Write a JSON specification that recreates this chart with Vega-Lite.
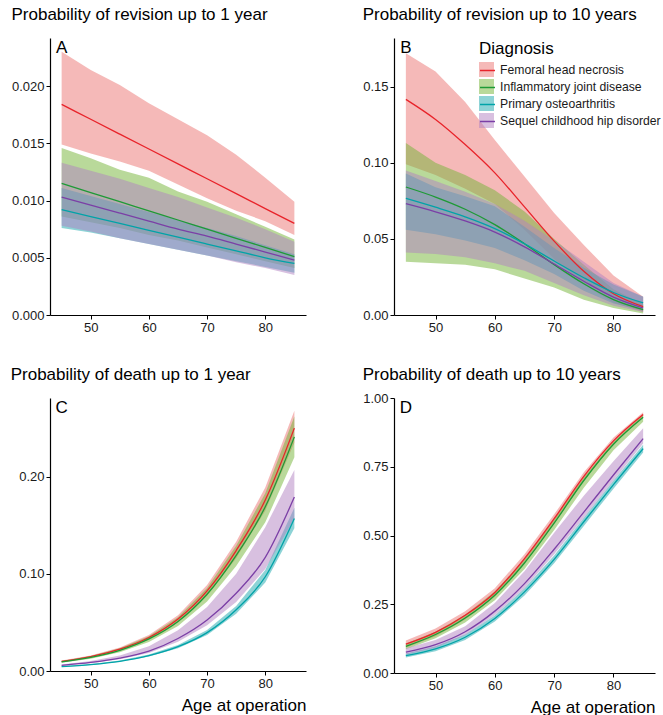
{
  "$schema": "https://vega.github.io/schema/vega-lite/v6.json",
  "background": "white",
  "padding": {"left": 10, "top": 6, "right": 0, "bottom": 0},
  "datasets": {
    "rows": [
      {"p":"A","dx":"Femoral head necrosis","age":45,"est":0.0184,"lo":0.0149,"hi":0.0230},
      {"p":"A","dx":"Femoral head necrosis","age":50,"est":0.0171,"lo":0.0141,"hi":0.0214},
      {"p":"A","dx":"Femoral head necrosis","age":55,"est":0.0158,"lo":0.0134,"hi":0.0201},
      {"p":"A","dx":"Femoral head necrosis","age":60,"est":0.0145,"lo":0.0126,"hi":0.0185},
      {"p":"A","dx":"Femoral head necrosis","age":65,"est":0.0132,"lo":0.0114,"hi":0.0171},
      {"p":"A","dx":"Femoral head necrosis","age":70,"est":0.0119,"lo":0.0102,"hi":0.0157},
      {"p":"A","dx":"Femoral head necrosis","age":75,"est":0.0106,"lo":0.0091,"hi":0.0140},
      {"p":"A","dx":"Femoral head necrosis","age":80,"est":0.0093,"lo":0.0082,"hi":0.0120},
      {"p":"A","dx":"Femoral head necrosis","age":85,"est":0.0080,"lo":0.0070,"hi":0.0099},
      {"p":"A","dx":"Inflammatory joint disease","age":45,"est":0.0115,"lo":0.0086,"hi":0.0146},
      {"p":"A","dx":"Inflammatory joint disease","age":50,"est":0.0107,"lo":0.0081,"hi":0.0137},
      {"p":"A","dx":"Inflammatory joint disease","age":55,"est":0.0099,"lo":0.0076,"hi":0.0127},
      {"p":"A","dx":"Inflammatory joint disease","age":60,"est":0.0091,"lo":0.0070,"hi":0.0120},
      {"p":"A","dx":"Inflammatory joint disease","age":65,"est":0.0083,"lo":0.0065,"hi":0.0108},
      {"p":"A","dx":"Inflammatory joint disease","age":70,"est":0.0075,"lo":0.0059,"hi":0.0099},
      {"p":"A","dx":"Inflammatory joint disease","age":75,"est":0.0067,"lo":0.0053,"hi":0.0088},
      {"p":"A","dx":"Inflammatory joint disease","age":80,"est":0.0059,"lo":0.0047,"hi":0.0077},
      {"p":"A","dx":"Inflammatory joint disease","age":85,"est":0.0051,"lo":0.0041,"hi":0.0066},
      {"p":"A","dx":"Primary osteoarthritis","age":45,"est":0.0092,"lo":0.0076,"hi":0.0111},
      {"p":"A","dx":"Primary osteoarthritis","age":50,"est":0.0086,"lo":0.0072,"hi":0.0104},
      {"p":"A","dx":"Primary osteoarthritis","age":55,"est":0.0080,"lo":0.0067,"hi":0.0097},
      {"p":"A","dx":"Primary osteoarthritis","age":60,"est":0.0074,"lo":0.0062,"hi":0.0090},
      {"p":"A","dx":"Primary osteoarthritis","age":65,"est":0.0068,"lo":0.0057,"hi":0.0083},
      {"p":"A","dx":"Primary osteoarthritis","age":70,"est":0.0062,"lo":0.0052,"hi":0.0076},
      {"p":"A","dx":"Primary osteoarthritis","age":75,"est":0.0056,"lo":0.0047,"hi":0.0069},
      {"p":"A","dx":"Primary osteoarthritis","age":80,"est":0.0050,"lo":0.0042,"hi":0.0061},
      {"p":"A","dx":"Primary osteoarthritis","age":85,"est":0.0045,"lo":0.0037,"hi":0.0053},
      {"p":"A","dx":"Sequel childhood hip disorder","age":45,"est":0.0103,"lo":0.0078,"hi":0.0133},
      {"p":"A","dx":"Sequel childhood hip disorder","age":50,"est":0.0096,"lo":0.0073,"hi":0.0126},
      {"p":"A","dx":"Sequel childhood hip disorder","age":55,"est":0.0089,"lo":0.0067,"hi":0.0119},
      {"p":"A","dx":"Sequel childhood hip disorder","age":60,"est":0.0082,"lo":0.0062,"hi":0.0111},
      {"p":"A","dx":"Sequel childhood hip disorder","age":65,"est":0.0075,"lo":0.0057,"hi":0.0103},
      {"p":"A","dx":"Sequel childhood hip disorder","age":70,"est":0.0069,"lo":0.0052,"hi":0.0094},
      {"p":"A","dx":"Sequel childhood hip disorder","age":75,"est":0.0062,"lo":0.0046,"hi":0.0085},
      {"p":"A","dx":"Sequel childhood hip disorder","age":80,"est":0.0055,"lo":0.0041,"hi":0.0075},
      {"p":"A","dx":"Sequel childhood hip disorder","age":85,"est":0.0048,"lo":0.0035,"hi":0.0064},

      {"p":"B","dx":"Femoral head necrosis","age":45,"est":0.1417,"lo":0.099,"hi":0.172},
      {"p":"B","dx":"Femoral head necrosis","age":50,"est":0.1285,"lo":0.092,"hi":0.160},
      {"p":"B","dx":"Femoral head necrosis","age":55,"est":0.112,"lo":0.083,"hi":0.140},
      {"p":"B","dx":"Femoral head necrosis","age":60,"est":0.0934,"lo":0.073,"hi":0.115},
      {"p":"B","dx":"Femoral head necrosis","age":65,"est":0.071,"lo":0.056,"hi":0.091},
      {"p":"B","dx":"Femoral head necrosis","age":70,"est":0.0485,"lo":0.037,"hi":0.067},
      {"p":"B","dx":"Femoral head necrosis","age":75,"est":0.0287,"lo":0.020,"hi":0.046},
      {"p":"B","dx":"Femoral head necrosis","age":80,"est":0.014,"lo":0.008,"hi":0.026},
      {"p":"B","dx":"Femoral head necrosis","age":85,"est":0.0055,"lo":0.002,"hi":0.012},
      {"p":"B","dx":"Inflammatory joint disease","age":45,"est":0.0841,"lo":0.035,"hi":0.113},
      {"p":"B","dx":"Inflammatory joint disease","age":50,"est":0.0775,"lo":0.034,"hi":0.100},
      {"p":"B","dx":"Inflammatory joint disease","age":55,"est":0.0695,"lo":0.033,"hi":0.092},
      {"p":"B","dx":"Inflammatory joint disease","age":60,"est":0.0594,"lo":0.030,"hi":0.082},
      {"p":"B","dx":"Inflammatory joint disease","age":65,"est":0.0468,"lo":0.024,"hi":0.068},
      {"p":"B","dx":"Inflammatory joint disease","age":70,"est":0.0331,"lo":0.018,"hi":0.050},
      {"p":"B","dx":"Inflammatory joint disease","age":75,"est":0.0205,"lo":0.010,"hi":0.033},
      {"p":"B","dx":"Inflammatory joint disease","age":80,"est":0.0101,"lo":0.0046,"hi":0.017},
      {"p":"B","dx":"Inflammatory joint disease","age":85,"est":0.0035,"lo":0.001,"hi":0.007},
      {"p":"B","dx":"Primary osteoarthritis","age":45,"est":0.0766,"lo":0.056,"hi":0.093},
      {"p":"B","dx":"Primary osteoarthritis","age":50,"est":0.0708,"lo":0.053,"hi":0.084},
      {"p":"B","dx":"Primary osteoarthritis","age":55,"est":0.0645,"lo":0.049,"hi":0.078},
      {"p":"B","dx":"Primary osteoarthritis","age":60,"est":0.0568,"lo":0.044,"hi":0.0715},
      {"p":"B","dx":"Primary osteoarthritis","age":65,"est":0.0468,"lo":0.036,"hi":0.058},
      {"p":"B","dx":"Primary osteoarthritis","age":70,"est":0.0355,"lo":0.027,"hi":0.044},
      {"p":"B","dx":"Primary osteoarthritis","age":75,"est":0.0245,"lo":0.016,"hi":0.031},
      {"p":"B","dx":"Primary osteoarthritis","age":80,"est":0.0148,"lo":0.0075,"hi":0.020},
      {"p":"B","dx":"Primary osteoarthritis","age":85,"est":0.0079,"lo":0.003,"hi":0.012},
      {"p":"B","dx":"Sequel childhood hip disorder","age":45,"est":0.0731,"lo":0.041,"hi":0.095},
      {"p":"B","dx":"Sequel childhood hip disorder","age":50,"est":0.0678,"lo":0.040,"hi":0.088},
      {"p":"B","dx":"Sequel childhood hip disorder","age":55,"est":0.0618,"lo":0.038,"hi":0.081},
      {"p":"B","dx":"Sequel childhood hip disorder","age":60,"est":0.0545,"lo":0.034,"hi":0.073},
      {"p":"B","dx":"Sequel childhood hip disorder","age":65,"est":0.0448,"lo":0.029,"hi":0.062},
      {"p":"B","dx":"Sequel childhood hip disorder","age":70,"est":0.0335,"lo":0.021,"hi":0.049},
      {"p":"B","dx":"Sequel childhood hip disorder","age":75,"est":0.0222,"lo":0.013,"hi":0.035},
      {"p":"B","dx":"Sequel childhood hip disorder","age":80,"est":0.0118,"lo":0.006,"hi":0.021},
      {"p":"B","dx":"Sequel childhood hip disorder","age":85,"est":0.0046,"lo":0.002,"hi":0.012},

      {"p":"C","dx":"Femoral head necrosis","age":45,"est":0.0098,"lo":0.0090,"hi":0.0108},
      {"p":"C","dx":"Femoral head necrosis","age":50,"est":0.0148,"lo":0.0137,"hi":0.0160},
      {"p":"C","dx":"Femoral head necrosis","age":55,"est":0.0225,"lo":0.0210,"hi":0.0242},
      {"p":"C","dx":"Femoral head necrosis","age":60,"est":0.0345,"lo":0.0322,"hi":0.0370},
      {"p":"C","dx":"Femoral head necrosis","age":65,"est":0.0535,"lo":0.0500,"hi":0.0575},
      {"p":"C","dx":"Femoral head necrosis","age":70,"est":0.0825,"lo":0.0775,"hi":0.0885},
      {"p":"C","dx":"Femoral head necrosis","age":75,"est":0.124,"lo":0.116,"hi":0.133},
      {"p":"C","dx":"Femoral head necrosis","age":80,"est":0.176,"lo":0.165,"hi":0.189},
      {"p":"C","dx":"Femoral head necrosis","age":85,"est":0.250,"lo":0.235,"hi":0.268},
      {"p":"C","dx":"Inflammatory joint disease","age":45,"est":0.0093,"lo":0.0084,"hi":0.0103},
      {"p":"C","dx":"Inflammatory joint disease","age":50,"est":0.0140,"lo":0.0127,"hi":0.0154},
      {"p":"C","dx":"Inflammatory joint disease","age":55,"est":0.0213,"lo":0.0193,"hi":0.0233},
      {"p":"C","dx":"Inflammatory joint disease","age":60,"est":0.0330,"lo":0.0299,"hi":0.0358},
      {"p":"C","dx":"Inflammatory joint disease","age":65,"est":0.0510,"lo":0.0462,"hi":0.0552},
      {"p":"C","dx":"Inflammatory joint disease","age":70,"est":0.0790,"lo":0.0715,"hi":0.0855},
      {"p":"C","dx":"Inflammatory joint disease","age":75,"est":0.119,"lo":0.108,"hi":0.129},
      {"p":"C","dx":"Inflammatory joint disease","age":80,"est":0.169,"lo":0.153,"hi":0.183},
      {"p":"C","dx":"Inflammatory joint disease","age":85,"est":0.241,"lo":0.220,"hi":0.262},
      {"p":"C","dx":"Primary osteoarthritis","age":45,"est":0.0045,"lo":0.0042,"hi":0.0048},
      {"p":"C","dx":"Primary osteoarthritis","age":50,"est":0.0066,"lo":0.0062,"hi":0.0071},
      {"p":"C","dx":"Primary osteoarthritis","age":55,"est":0.0100,"lo":0.0094,"hi":0.0107},
      {"p":"C","dx":"Primary osteoarthritis","age":60,"est":0.0158,"lo":0.0148,"hi":0.0169},
      {"p":"C","dx":"Primary osteoarthritis","age":65,"est":0.0250,"lo":0.0235,"hi":0.0268},
      {"p":"C","dx":"Primary osteoarthritis","age":70,"est":0.0395,"lo":0.0371,"hi":0.0423},
      {"p":"C","dx":"Primary osteoarthritis","age":75,"est":0.063,"lo":0.059,"hi":0.067},
      {"p":"C","dx":"Primary osteoarthritis","age":80,"est":0.097,"lo":0.091,"hi":0.104},
      {"p":"C","dx":"Primary osteoarthritis","age":85,"est":0.157,"lo":0.147,"hi":0.168},
      {"p":"C","dx":"Sequel childhood hip disorder","age":45,"est":0.0058,"lo":0.0052,"hi":0.0068},
      {"p":"C","dx":"Sequel childhood hip disorder","age":50,"est":0.0088,"lo":0.0079,"hi":0.0104},
      {"p":"C","dx":"Sequel childhood hip disorder","age":55,"est":0.0133,"lo":0.0120,"hi":0.016},
      {"p":"C","dx":"Sequel childhood hip disorder","age":60,"est":0.0205,"lo":0.0185,"hi":0.0255},
      {"p":"C","dx":"Sequel childhood hip disorder","age":65,"est":0.0335,"lo":0.0300,"hi":0.042},
      {"p":"C","dx":"Sequel childhood hip disorder","age":70,"est":0.0525,"lo":0.0470,"hi":0.066},
      {"p":"C","dx":"Sequel childhood hip disorder","age":75,"est":0.080,"lo":0.071,"hi":0.100},
      {"p":"C","dx":"Sequel childhood hip disorder","age":80,"est":0.117,"lo":0.105,"hi":0.148},
      {"p":"C","dx":"Sequel childhood hip disorder","age":85,"est":0.179,"lo":0.157,"hi":0.207},

      {"p":"D","dx":"Femoral head necrosis","age":45,"est":0.105,"lo":0.092,"hi":0.118},
      {"p":"D","dx":"Femoral head necrosis","age":50,"est":0.148,"lo":0.134,"hi":0.162},
      {"p":"D","dx":"Femoral head necrosis","age":55,"est":0.210,"lo":0.195,"hi":0.225},
      {"p":"D","dx":"Femoral head necrosis","age":60,"est":0.293,"lo":0.278,"hi":0.308},
      {"p":"D","dx":"Femoral head necrosis","age":65,"est":0.416,"lo":0.400,"hi":0.432},
      {"p":"D","dx":"Femoral head necrosis","age":70,"est":0.561,"lo":0.545,"hi":0.577},
      {"p":"D","dx":"Femoral head necrosis","age":75,"est":0.715,"lo":0.700,"hi":0.730},
      {"p":"D","dx":"Femoral head necrosis","age":80,"est":0.844,"lo":0.832,"hi":0.856},
      {"p":"D","dx":"Femoral head necrosis","age":85,"est":0.940,"lo":0.932,"hi":0.948},
      {"p":"D","dx":"Inflammatory joint disease","age":45,"est":0.097,"lo":0.086,"hi":0.107},
      {"p":"D","dx":"Inflammatory joint disease","age":50,"est":0.140,"lo":0.126,"hi":0.150},
      {"p":"D","dx":"Inflammatory joint disease","age":55,"est":0.200,"lo":0.184,"hi":0.212},
      {"p":"D","dx":"Inflammatory joint disease","age":60,"est":0.283,"lo":0.265,"hi":0.296},
      {"p":"D","dx":"Inflammatory joint disease","age":65,"est":0.400,"lo":0.378,"hi":0.414},
      {"p":"D","dx":"Inflammatory joint disease","age":70,"est":0.545,"lo":0.520,"hi":0.560},
      {"p":"D","dx":"Inflammatory joint disease","age":75,"est":0.700,"lo":0.674,"hi":0.713},
      {"p":"D","dx":"Inflammatory joint disease","age":80,"est":0.832,"lo":0.810,"hi":0.843},
      {"p":"D","dx":"Inflammatory joint disease","age":85,"est":0.930,"lo":0.914,"hi":0.940},
      {"p":"D","dx":"Primary osteoarthritis","age":45,"est":0.063,"lo":0.056,"hi":0.071},
      {"p":"D","dx":"Primary osteoarthritis","age":50,"est":0.088,"lo":0.079,"hi":0.097},
      {"p":"D","dx":"Primary osteoarthritis","age":55,"est":0.130,"lo":0.120,"hi":0.140},
      {"p":"D","dx":"Primary osteoarthritis","age":60,"est":0.198,"lo":0.187,"hi":0.209},
      {"p":"D","dx":"Primary osteoarthritis","age":65,"est":0.295,"lo":0.282,"hi":0.308},
      {"p":"D","dx":"Primary osteoarthritis","age":70,"est":0.413,"lo":0.399,"hi":0.427},
      {"p":"D","dx":"Primary osteoarthritis","age":75,"est":0.550,"lo":0.535,"hi":0.565},
      {"p":"D","dx":"Primary osteoarthritis","age":80,"est":0.685,"lo":0.670,"hi":0.700},
      {"p":"D","dx":"Primary osteoarthritis","age":85,"est":0.816,"lo":0.802,"hi":0.830},
      {"p":"D","dx":"Sequel childhood hip disorder","age":45,"est":0.076,"lo":0.066,"hi":0.090},
      {"p":"D","dx":"Sequel childhood hip disorder","age":50,"est":0.103,"lo":0.092,"hi":0.120},
      {"p":"D","dx":"Sequel childhood hip disorder","age":55,"est":0.150,"lo":0.138,"hi":0.170},
      {"p":"D","dx":"Sequel childhood hip disorder","age":60,"est":0.225,"lo":0.210,"hi":0.255},
      {"p":"D","dx":"Sequel childhood hip disorder","age":65,"est":0.325,"lo":0.308,"hi":0.370},
      {"p":"D","dx":"Sequel childhood hip disorder","age":70,"est":0.450,"lo":0.432,"hi":0.510},
      {"p":"D","dx":"Sequel childhood hip disorder","age":75,"est":0.585,"lo":0.565,"hi":0.645},
      {"p":"D","dx":"Sequel childhood hip disorder","age":80,"est":0.720,"lo":0.700,"hi":0.770},
      {"p":"D","dx":"Sequel childhood hip disorder","age":85,"est":0.852,"lo":0.835,"hi":0.890}
    ]
  },
  "columns": 2,
  "spacing": {"row": 32, "column": 56},
  "concat": [
    {
      "title": {"text": "Probability of revision up to 1 year"},
      "width": 256,
      "height": 277,
      "data": {"name": "rows"},
      "layer": [
        {
          "transform": [{"filter": "datum.p == 'A'"}],
          "mark": {"type": "area", "opacity": 0.5},
          "encoding": {
            "x": {"field": "age", "type": "quantitative", "scale": {"domain": [43, 87], "nice": false, "zero": false}, "axis": {"values": [50, 60, 70, 80], "title": null}},
            "y": {"field": "hi", "type": "quantitative", "scale": {"domain": [0, 0.0242], "nice": false}, "axis": {"values": [0, 0.005, 0.01, 0.015, 0.02], "format": ".3f", "title": null}},
            "y2": {"field": "lo"},
            "fill": {
              "field": "dx", "type": "nominal",
              "scale": {"domain": ["Femoral head necrosis", "Inflammatory joint disease", "Primary osteoarthritis", "Sequel childhood hip disorder"], "range": ["#eb7371", "#73b335", "#1ba7ad", "#b181c1"]},
              "legend": {"orient": "none", "legendX": 429, "legendY": 3, "title": "Diagnosis", "titleFontSize": 17, "titleFontWeight": "normal", "titleColor": "#000", "titlePadding": 4, "labelFontSize": 12.2, "labelLimit": 400, "labelColor": "#1a1a1a", "labelOffset": 6, "symbolType": "square", "symbolSize": 225, "symbolOpacity": 0.5, "symbolStrokeWidth": 0, "rowPadding": 2}
            }
          }
        },
        {
          "transform": [{"filter": "datum.p == 'A'"}],
          "mark": {"type": "line", "strokeWidth": 1.3, "interpolate": "monotone"},
          "encoding": {
            "x": {"field": "age", "type": "quantitative"},
            "y": {"field": "est", "type": "quantitative"},
            "stroke": {
              "field": "dx", "type": "nominal",
              "scale": {"range": ["#e8232a", "#1e9a36", "#00a3a8", "#7b3fa6"]},
              "legend": {"orient": "none", "legendX": 429, "legendY": 3, "title": " ", "titleFontSize": 17, "titleFontWeight": "normal", "titlePadding": 4, "labelFontSize": 12.2, "labelExpr": "''", "labelOffset": 6, "symbolType": "stroke", "symbolSize": 225, "symbolStrokeWidth": 1.5, "rowPadding": 2}
            }
          }
        },
        {
          "transform": [{"filter": "datum.p == 'A' && datum.age == 45 && datum.dx == 'Femoral head necrosis'"}],
          "mark": {"type": "text", "fontSize": 17, "align": "center", "baseline": "top", "dy": 2, "color": "#000"},
          "encoding": {"x": {"field": "age", "type": "quantitative"}, "y": {"datum": 0.0242}, "text": {"value": "A"}}
        }
      ]
    },
    {
      "title": {"text": "Probability of revision up to 10 years"},
      "width": 261,
      "height": 277,
      "data": {"name": "rows"},
      "layer": [
        {
          "transform": [{"filter": "datum.p == 'B'"}],
          "mark": {"type": "area", "opacity": 0.5},
          "encoding": {
            "x": {"field": "age", "type": "quantitative", "scale": {"domain": [43, 87], "nice": false, "zero": false}, "axis": {"values": [50, 60, 70, 80], "title": null}},
            "y": {"field": "hi", "type": "quantitative", "scale": {"domain": [0, 0.182], "nice": false}, "axis": {"values": [0, 0.05, 0.1, 0.15], "format": ".2f", "title": null}},
            "y2": {"field": "lo"},
            "fill": {"field": "dx", "type": "nominal"}
          }
        },
        {
          "transform": [{"filter": "datum.p == 'B'"}],
          "mark": {"type": "line", "strokeWidth": 1.3, "interpolate": "monotone"},
          "encoding": {
            "x": {"field": "age", "type": "quantitative"},
            "y": {"field": "est", "type": "quantitative"},
            "stroke": {"field": "dx", "type": "nominal"}
          }
        },
        {
          "transform": [{"filter": "datum.p == 'B' && datum.age == 45 && datum.dx == 'Femoral head necrosis'"}],
          "mark": {"type": "text", "fontSize": 17, "align": "center", "baseline": "top", "dy": 2, "color": "#000"},
          "encoding": {"x": {"field": "age", "type": "quantitative"}, "y": {"datum": 0.182}, "text": {"value": "B"}}
        }
      ]
    },
    {
      "title": {"text": "Probability of death up to 1 year", "offset": 14, "dx": -8},
      "width": 256,
      "height": 273,
      "data": {"name": "rows"},
      "layer": [
        {
          "transform": [{"filter": "datum.p == 'C'"}],
          "mark": {"type": "area", "opacity": 0.5},
          "encoding": {
            "x": {"field": "age", "type": "quantitative", "scale": {"domain": [43, 87], "nice": false, "zero": false}, "axis": {"values": [50, 60, 70, 80], "title": "Age at operation"}},
            "y": {"field": "hi", "type": "quantitative", "scale": {"domain": [0, 0.281], "nice": false}, "axis": {"values": [0, 0.1, 0.2], "format": ".2f", "title": null}},
            "y2": {"field": "lo"},
            "fill": {"field": "dx", "type": "nominal"}
          }
        },
        {
          "transform": [{"filter": "datum.p == 'C'"}],
          "mark": {"type": "line", "strokeWidth": 1.3, "interpolate": "monotone"},
          "encoding": {
            "x": {"field": "age", "type": "quantitative"},
            "y": {"field": "est", "type": "quantitative"},
            "stroke": {"field": "dx", "type": "nominal"}
          }
        },
        {
          "transform": [{"filter": "datum.p == 'C' && datum.age == 45 && datum.dx == 'Femoral head necrosis'"}],
          "mark": {"type": "text", "fontSize": 17, "align": "center", "baseline": "top", "dy": 2, "color": "#000"},
          "encoding": {"x": {"field": "age", "type": "quantitative"}, "y": {"datum": 0.281}, "text": {"value": "C"}}
        }
      ]
    },
    {
      "title": {"text": "Probability of death up to 10 years", "offset": 8},
      "width": 261,
      "height": 275,
      "data": {"name": "rows"},
      "layer": [
        {
          "transform": [{"filter": "datum.p == 'D'"}],
          "mark": {"type": "area", "opacity": 0.5},
          "encoding": {
            "x": {"field": "age", "type": "quantitative", "scale": {"domain": [43, 87], "nice": false, "zero": false}, "axis": {"values": [50, 60, 70, 80], "title": "Age at operation"}},
            "y": {"field": "hi", "type": "quantitative", "scale": {"domain": [0, 1], "nice": false}, "axis": {"values": [0, 0.25, 0.5, 0.75, 1], "format": ".2f", "title": null}},
            "y2": {"field": "lo"},
            "fill": {"field": "dx", "type": "nominal"}
          }
        },
        {
          "transform": [{"filter": "datum.p == 'D'"}],
          "mark": {"type": "line", "strokeWidth": 1.3, "interpolate": "monotone"},
          "encoding": {
            "x": {"field": "age", "type": "quantitative"},
            "y": {"field": "est", "type": "quantitative"},
            "stroke": {"field": "dx", "type": "nominal"}
          }
        },
        {
          "transform": [{"filter": "datum.p == 'D' && datum.age == 45 && datum.dx == 'Femoral head necrosis'"}],
          "mark": {"type": "text", "fontSize": 17, "align": "center", "baseline": "top", "dy": 2, "color": "#000"},
          "encoding": {"x": {"field": "age", "type": "quantitative"}, "y": {"datum": 1}, "text": {"value": "D"}}
        }
      ]
    }
  ],
  "config": {
    "font": "Liberation Sans",
    "view": {"stroke": null},
    "axis": {"grid": false, "domainColor": "#000", "domainWidth": 1.2, "tickColor": "#000", "tickSize": 4, "tickWidth": 1, "labelFontSize": 13, "labelColor": "#1a1a1a", "labelPadding": 2, "titleFontSize": 17, "titleFontWeight": "normal", "titleColor": "#000"},
    "axisX": {"titleAnchor": "end", "titlePadding": 7},
    "legend": {"labelFontSize": 12.2, "labelLimit": 400, "titleFontSize": 17, "titleFontWeight": "normal"},
    "title": {"fontSize": 17, "fontWeight": "normal", "anchor": "start", "color": "#000", "offset": 14}
  }
}
